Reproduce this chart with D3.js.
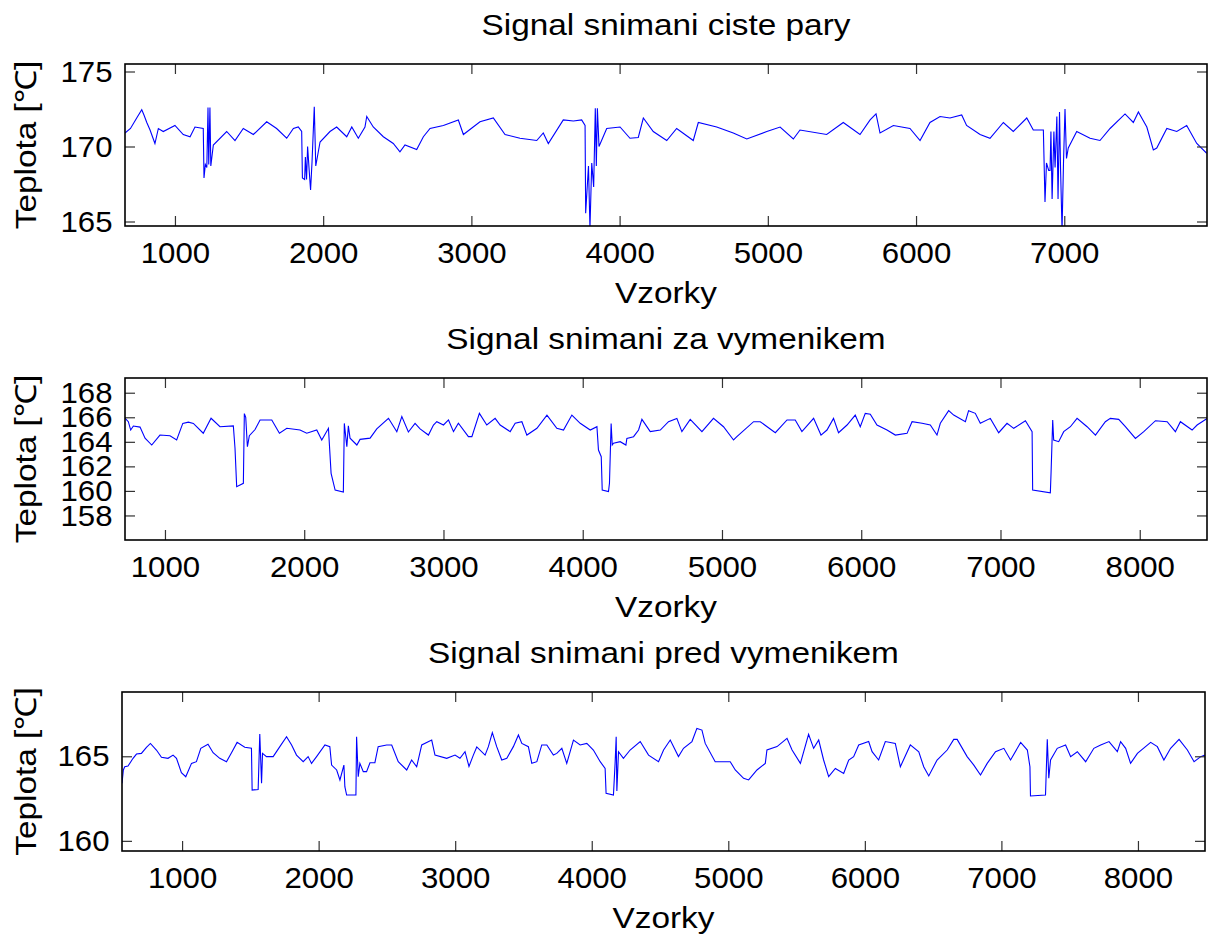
<!DOCTYPE html>
<html>
<head>
<meta charset="utf-8">
<script src="https://d3js.org/d3.v7.min.js"></script>
<style>
  body { margin: 0; background: #fff; }
  svg text { font-family: "Liberation Sans", Arial, sans-serif; fill: #000; }
</style>
</head>
<body>
<svg id="chart" width="1208" height="941"></svg>
<script>
// --- data ---
const titles = ["Signal snimani ciste pary", "Signal snimani za vymenikem", "Signal snimani pred vymenikem"];
const xLabel = "Vzorky";
const yLabel = "Teplota [\u2103]";

const xTicks1 = [1000, 2000, 3000, 4000, 5000, 6000, 7000];
const yTicks1 = [165, 170, 175];
const xTicks2 = [1000, 2000, 3000, 4000, 5000, 6000, 7000, 8000];
const yTicks2 = [158, 160, 162, 164, 166, 168];
const xTicks3 = [1000, 2000, 3000, 4000, 5000, 6000, 7000, 8000];
const yTicks3 = [160, 165];

const p1Samples = [663,700,742,776,791,810,832,865,888,921,1000,1056,1102,1135,1191,1196,1205,1215,1223,1228,1236,1242,1259,1349,1405,1461,1529,1619,1686,1754,1799,1832,1855,1860,1875,1880,1888,1895,1905,1915,1925,1940,1950,1979,2046,2091,2159,2193,2237,2282,2294,2338,2406,2473,2518,2552,2631,2676,2721,2811,2912,2946,3058,3148,3227,3328,3441,3485,3519,3620,3688,3744,3767,3771,3790,3800,3812,3825,3836,3843,3850,3861,3913,4003,4070,4126,4160,4227,4318,4385,4497,4531,4655,4767,4858,4993,5083,5172,5217,5397,5509,5622,5690,5730,5757,5847,5959,6027,6094,6162,6229,6308,6341,6432,6499,6589,6656,6747,6791,6859,6870,6880,6895,6904,6910,6918,6930,6938,6950,6958,6968,6975,6985,6995,7005,7015,7027,7084,7174,7241,7309,7410,7466,7500,7557,7601,7624,7692,7759,7826,7894,7961];
const p1Temps = [170.9,171.2,171.9,172.45,172.1,171.6,171.1,170.2,171.2,171.0,171.4,170.8,170.65,171.3,171.2,167.9,168.8,168.6,172.6,168.8,172.6,168.7,170.1,171.0,170.4,171.2,170.8,171.65,171.2,170.55,171.2,171.3,171.0,167.9,167.8,169.3,167.8,170.0,168.5,167.1,169.0,172.65,168.7,170.3,171.0,171.3,170.65,171.3,170.55,171.3,172.0,171.3,170.65,170.2,169.65,170.1,169.8,170.65,171.2,171.4,171.77,170.8,171.65,171.9,170.8,170.55,170.4,170.9,170.2,171.77,171.7,171.77,171.4,165.55,168.7,164.55,168.9,167.3,172.55,168.7,172.55,170.0,171.2,171.3,170.55,170.6,171.9,171.0,170.4,171.2,170.4,171.6,171.3,170.9,170.5,171.0,171.3,170.5,171.1,170.8,171.6,170.8,171.77,172.17,170.9,171.4,171.2,170.4,171.6,172.0,171.9,172.1,171.4,170.8,170.55,171.6,171.0,171.9,171.1,171.1,166.3,168.9,168.4,168.4,171.0,166.5,171.0,168.6,172.0,166.5,172.3,168.5,164.4,169.0,172.5,169.2,169.9,171.0,170.55,170.4,171.2,172.17,171.6,172.3,171.3,169.77,169.9,171.2,171.0,171.4,170.2,169.55];

const p2Samples = [713,737,754,773,821,857,905,964,1036,1084,1128,1168,1204,1275,1331,1395,1491,1503,1515,1563,1570,1580,1592,1606,1647,1683,1767,1822,1875,1970,2018,2090,2126,2174,2193,2222,2281,2288,2306,2317,2329,2378,2401,2473,2521,2605,2665,2701,2748,2796,2832,2892,2928,2952,3000,3036,3072,3107,3179,3204,3258,3311,3371,3407,3479,3515,3563,3599,3671,3743,3814,3862,3922,3982,4054,4102,4113,4133,4140,4185,4192,4204,4212,4221,4269,4310,4317,4365,4401,4425,4485,4557,4616,4676,4712,4772,4856,4939,5011,5083,5107,5227,5275,5383,5467,5526,5574,5658,5711,5754,5801,5837,5898,5957,5993,6029,6065,6113,6185,6245,6329,6365,6437,6496,6544,6568,6628,6664,6748,6771,6819,6855,6927,6987,7047,7095,7179,7227,7231,7358,7363,7375,7382,7418,7454,7502,7550,7622,7682,7753,7789,7849,7897,7969,8029,8113,8197,8256,8292,8376,8412,8484];
const p2Temps = [165.92,165.64,164.96,165.29,165.2,164.3,163.74,164.55,164.5,164.15,165.5,165.6,165.5,164.7,165.92,165.23,165.3,163.47,160.34,160.62,166.3,166.0,163.6,164.5,165.0,165.78,165.78,164.7,165.1,164.96,164.7,164.96,164.15,165.1,161.43,160.07,159.9,165.5,163.6,165.3,164.3,163.74,164.2,164.3,165.05,165.92,164.82,166.05,164.8,165.5,165.05,164.55,165.37,165.64,165.37,165.78,164.83,165.51,164.42,164.42,166.32,165.37,165.91,165.37,164.83,165.51,165.64,164.55,165.1,166.18,165.1,164.96,166.18,165.51,164.96,165.23,163.33,162.79,160.07,159.94,160.62,165.5,163.74,163.88,164.01,163.74,164.28,164.42,164.96,165.83,164.83,164.96,165.64,165.91,164.83,165.83,164.83,165.91,165.23,164.15,164.42,165.64,165.64,164.74,165.78,165.78,164.83,165.91,164.55,164.96,165.91,164.74,165.37,166.18,165.23,166.32,166.25,165.37,164.96,164.55,164.69,165.64,165.51,165.37,164.55,165.51,166.54,166.18,165.64,166.54,166.32,165.51,165.91,164.74,165.51,165.1,165.72,164.83,160.07,159.85,161.43,165.78,164.15,164.01,164.83,165.23,165.91,165.23,164.55,165.64,165.91,165.83,165.23,164.28,164.83,165.72,165.64,164.83,165.64,164.96,165.37,165.91];

const p3Samples = [560,570,580,604,641,666,702,739,768,812,849,897,934,959,995,1027,1069,1105,1137,1190,1227,1276,1325,1362,1403,1459,1508,1513,1557,1569,1582,1589,1618,1667,1716,1765,1802,1838,1887,1923,1948,1985,2046,2082,2095,2132,2156,2185,2192,2205,2273,2278,2290,2302,2327,2351,2376,2412,2436,2498,2535,2583,2645,2681,2718,2755,2828,2852,2938,2999,3035,3072,3101,3133,3158,3219,3243,3272,3304,3341,3378,3426,3463,3488,3536,3561,3598,3634,3671,3719,3744,3781,3817,3866,3915,3964,4012,4062,4098,4105,4159,4171,4179,4184,4196,4232,4281,4355,4416,4489,4526,4575,4635,4672,4734,4770,4807,4831,4904,5014,5051,5112,5149,5210,5271,5283,5357,5430,5467,5528,5588,5625,5662,5698,5735,5784,5845,5882,5918,5955,6028,6053,6101,6150,6223,6260,6333,6395,6431,6468,6529,6603,6651,6676,6749,6798,6847,6896,6957,7018,7067,7141,7190,7209,7213,7323,7336,7347,7360,7409,7470,7507,7556,7617,7677,7727,7788,7849,7873,7910,7946,7996,8093,8142,8190,8239,8301,8362,8411,8460,8490];
const p3Temps = [163.4,164.19,164.38,164.42,164.88,165.13,165.17,165.53,165.76,165.37,164.94,164.88,165.07,164.88,164.03,163.79,164.58,164.68,165.47,165.71,165.21,164.88,164.68,165.21,165.82,165.53,165.47,163.0,163.04,166.32,163.4,165.17,164.98,164.98,165.57,166.16,165.67,165.07,164.68,164.98,164.58,164.98,165.67,165.57,164.48,164.19,163.6,164.48,163.2,162.71,162.71,166.16,163.79,164.58,164.09,164.09,164.62,164.62,165.57,165.67,165.67,164.68,164.19,164.78,164.38,165.67,165.96,165.07,164.88,165.07,164.88,165.27,164.4,165.07,165.55,165.07,165.57,166.4,165.57,164.78,164.88,165.57,166.26,165.76,165.57,164.58,164.68,165.67,165.67,165.07,165.17,165.47,164.58,165.96,165.67,165.76,165.37,164.68,164.28,162.81,162.71,164.58,166.16,162.95,165.27,164.88,165.37,165.87,165.07,164.68,165.37,165.96,164.98,165.47,165.87,166.65,166.55,165.76,164.68,164.68,164.19,163.7,163.6,164.19,164.58,165.37,165.57,166.06,165.37,164.58,166.3,165.47,165.96,164.78,163.8,164.28,163.99,164.78,164.98,165.67,165.87,165.27,164.78,165.87,165.76,164.38,165.67,165.27,164.38,163.84,164.78,165.37,166.0,166.0,164.98,164.48,163.89,164.58,165.27,165.47,164.78,165.82,165.37,164.38,162.65,162.71,166.0,163.7,164.78,165.47,165.67,164.98,165.27,164.68,165.47,165.67,165.87,165.27,165.87,165.47,164.58,165.17,165.82,165.57,164.78,165.47,166.0,165.37,164.68,164.98,165.07];

const panels = [
  { title: titles[0], xs: p1Samples, ys: p1Temps, xDom: [663, 7963], yDom: [164.7, 175.5],
    xTicks: xTicks1, yTicks: yTicks1, box: [125, 64, 1207, 226] },
  { title: titles[1], xs: p2Samples, ys: p2Temps, xDom: [713, 8483], yDom: [156, 169.2],
    xTicks: xTicks2, yTicks: yTicks2, box: [125, 378, 1207, 540] },
  { title: titles[2], xs: p3Samples, ys: p3Temps, xDom: [560, 8491], yDom: [159.4, 168.8],
    xTicks: xTicks3, yTicks: yTicks3, box: [122, 692, 1205, 851] }
];

const svg = d3.select("#chart");
const tickLen = 10;
const labelSize = 29, labelStretch = 1.15;
const tickSize = 30, tickStretch = 1.04;

function label(g, x, y, rot, txt) {
  g.append("text")
    .attr("transform", "translate(" + x + "," + y + ")" + (rot ? " rotate(-90)" : "") + " scale(" + labelStretch + ",1)")
    .attr("text-anchor", "middle").attr("font-size", labelSize).text(txt);
}

panels.forEach(function (p, i) {
  const [x0, y0, x1, y1] = p.box;
  const x = d3.scaleLinear().domain(p.xDom).range([x0, x1]);
  const y = d3.scaleLinear().domain(p.yDom).range([y1, y0]);
  const g = svg.append("g");

  svg.append("clipPath").attr("id", "clip" + i)
    .append("rect").attr("x", x0).attr("y", y0).attr("width", x1 - x0).attr("height", y1 - y0);

  const pts = p.xs.map((s, k) => [s, p.ys[k]]);
  g.append("path")
    .datum(pts)
    .attr("clip-path", "url(#clip" + i + ")")
    .attr("fill", "none")
    .attr("stroke", "#0000ff")
    .attr("stroke-width", 1.1)
    .attr("d", d3.line().x(d => x(d[0])).y(d => y(d[1])));

  const bottom = g.append("g").attr("transform", "translate(0," + y1 + ")")
    .call(d3.axisBottom(x).tickValues(p.xTicks).tickSizeInner(-tickLen).tickSizeOuter(0).tickPadding(16).tickFormat(d3.format("d")));
  const top = g.append("g").attr("transform", "translate(0," + y0 + ")")
    .call(d3.axisTop(x).tickValues(p.xTicks).tickSizeInner(-tickLen).tickSizeOuter(0).tickFormat(""));
  const left = g.append("g").attr("transform", "translate(" + x0 + ",0)")
    .call(d3.axisLeft(y).tickValues(p.yTicks).tickSizeInner(-tickLen).tickSizeOuter(0).tickPadding(12).tickFormat(d3.format("d")));
  const right = g.append("g").attr("transform", "translate(" + x1 + ",0)")
    .call(d3.axisRight(y).tickValues(p.yTicks).tickSizeInner(-tickLen).tickSizeOuter(0).tickFormat(""));

  [bottom, top, left, right].forEach(function (a) {
    a.select(".domain").remove();
    a.selectAll(".tick line").attr("stroke", "#333").attr("stroke-width", 1.2);
    a.selectAll(".tick text").attr("font-size", tickSize)
      .attr("font-family", "Liberation Sans, Arial, sans-serif")
      .attr("transform", "scale(" + tickStretch + ",1)");
  });

  g.append("rect").attr("x", x0).attr("y", y0).attr("width", x1 - x0).attr("height", y1 - y0)
    .attr("fill", "none").attr("stroke", "#000").attr("stroke-width", 1.6);

  const cx = (x0 + x1) / 2;
  label(g, cx, y0 - 29, false, p.title);
  label(g, cx, y1 + 77, false, xLabel);
  label(g, 36, (y0 + y1) / 2, true, yLabel);
});
</script>
</body>
</html>
